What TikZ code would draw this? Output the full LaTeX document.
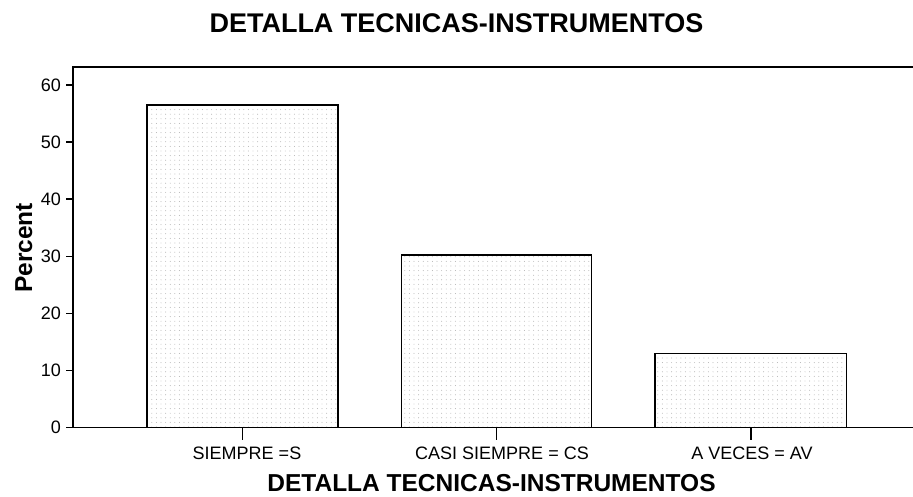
\documentclass[tikz,border=0pt]{standalone}
\usepackage{fontspec}
\setmainfont{Liberation Sans}
\usetikzlibrary{patterns.meta}
\begin{document}
\begin{tikzpicture}[x=1pt,y=-1pt,
  axisline/.style={line width=1.5pt,black},
  barbox/.style={line width=1.4pt,black,pattern={Dots[distance=4.6pt,radius=0.45pt]},pattern color=black!35},
  ticklab/.style={anchor=base east,inner sep=0pt,font=\fontsize{18}{20}\selectfont},
  catlab/.style={anchor=base,inner sep=0pt,font=\fontsize{18}{20}\selectfont},
  ttl/.style={anchor=base,inner sep=0pt,font=\bfseries\fontsize{27}{30}\selectfont},
  xttl/.style={anchor=base,inner sep=0pt,font=\bfseries\fontsize{24.5}{28}\selectfont}]
\useasboundingbox (0,0) rectangle (913,496);
\fill[white] (0,0) rectangle (913,496);
% title
\node[ttl] (title) at (456.5,32) {DETALLA TECNICAS-INSTRUMENTOS};
% bars
\draw[barbox] (147,427.5) rectangle (338,105);
\draw[barbox] (401.5,427.5) rectangle (591.7,255);
\draw[barbox] (655,427.5) rectangle (846.7,353.5);
% frame
\coordinate (o) at (73,427.5);
\coordinate (tl) at (73,67);
\coordinate (tr) at (913,67);
\coordinate (br) at (913,427.5);
\draw[axisline] (tr) -- (tl) -- (o) -- (br);
% y ticks
\foreach \v/\n in {0/t0,10/t1,20/t2,30/t3,40/t4,50/t5,60/t6}{
  \pgfmathsetmacro{\yy}{427.5-5.708*\v}
  \draw[line width=1.5pt] (66,\yy) -- (73,\yy);
  \node[ticklab] (\n) at (61,\yy+6.4) {\v};
}
% x ticks
\foreach \xx in {242.5,496.6,751}{
  \draw[line width=1.5pt] (\xx,427.5) -- (\xx,440);
}
\node[catlab] (c1) at (247,459) {SIEMPRE =S};
\node[catlab] (c2) at (502,459) {CASI SIEMPRE = CS};
\node[catlab] (c3) at (752,459) {A VECES = AV};
% axis titles
\node[xttl] (xt) at (491.5,491.5) {DETALLA TECNICAS-INSTRUMENTOS};
\node[xttl,rotate=90] (yt) at (32,248) {Percent};
\end{tikzpicture}
\end{document}
